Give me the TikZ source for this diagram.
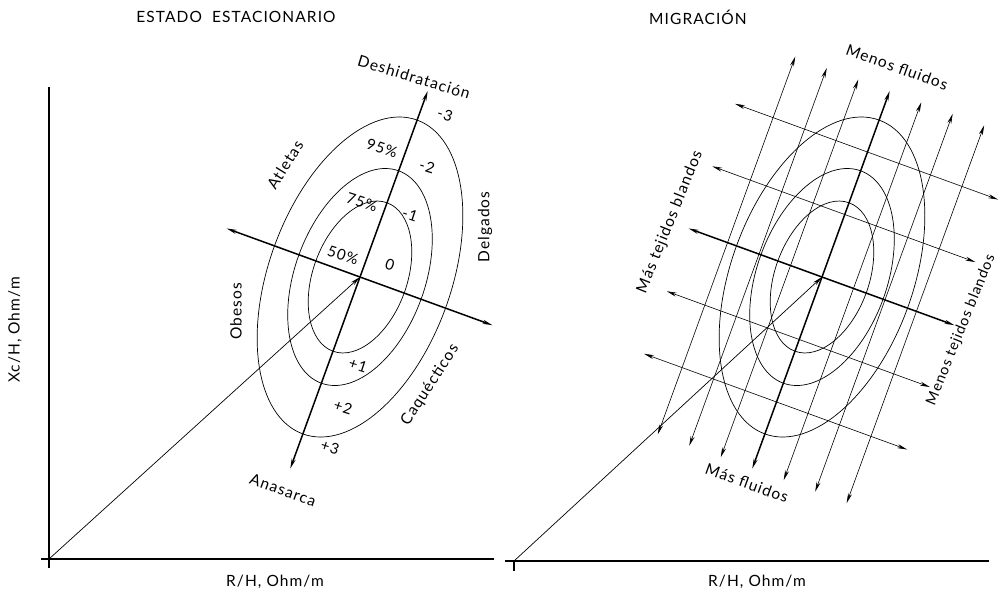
\documentclass[tikz,border=0pt]{standalone}
\usepackage{fontspec}
\setmainfont{Lato}[LetterSpace=7]
\usetikzlibrary{arrows.meta, positioning, calc}

\begin{document}
\begin{tikzpicture}[
    x=1pt, y=1pt,
    lbl/.style={font=\fontsize{15.5}{17}\selectfont, inner sep=1pt},
    num/.style={font=\fontsize{15}{17}\selectfont, inner sep=1pt, rotate=-18},
    axis/.style={line width=1.4pt},
    mainax/.style={line width=1.5pt, <->},
    gridln/.style={line width=0.6pt, <->},
    ring/.style={line width=0.7pt},
    >={Stealth[length=10pt, width=4pt]}
]
    \useasboundingbox (0,0) rectangle (1005,-598);

    % origins and centres of the two panels
    \coordinate (oL) at (49,-559);
    \coordinate (cL) at (360,-277);
    \coordinate (oR) at (514,-561);
    \coordinate (cR) at (822,-277);

    % frame axes
    \coordinate (yTop) at (49,-87);
    \coordinate (yBot) at (49,-568);
    \coordinate (xLa) at (41,-559);
    \coordinate (xLb) at (494,-559);
    \coordinate (xRa) at (505,-561);
    \coordinate (xRb) at (989,-561);
    \coordinate (tickR) at (514,-571);
    \draw[axis] (yTop) -- (yBot);
    \draw[axis] (xLa) -- (xLb);
    \draw[axis] (xRa) -- (xRb);
    \draw[axis] (oR) -- (tickR);

    % right panel: grid of parallel arrows
    \foreach \k in {-3,-2,-1,1,2,3}{
        \coordinate (gt\k) at ($(cR)+(-20:{33.5*\k})+(70:198)$);
        \coordinate (gb\k) at ($(cR)+(-20:{33.5*\k})+(250:204)$);
        \draw[gridln] (gb\k) -- (gt\k);
    }
    \foreach \k in {-2,-1,1,2}{
        \coordinate (hl\k) at ($(cR)+(70:{66.5*\k})+(160:141)$);
        \coordinate (hr\k) at ($(cR)+(70:{66.5*\k})+(-20:139)$);
        \draw[gridln] (hl\k) -- (hr\k);
    }

    % both panels: tolerance ellipses, main axes, vector
    \foreach \p in {L,R}{
        \foreach \a/\b in {167/91, 113/65, 79/47}
            \draw[ring] (c\p) ellipse [x radius=\a, y radius=\b, rotate=70];
        \coordinate (top\p) at ($(c\p)+(70:198)$);
        \coordinate (bot\p) at ($(c\p)+(250:204)$);
        \coordinate (lft\p) at ($(c\p)+(160:142)$);
        \coordinate (rgt\p) at ($(c\p)+(-20:141)$);
        \draw[mainax] (bot\p) -- (top\p);
        \draw[mainax] (lft\p) -- (rgt\p);
        \draw[ring, ->] (o\p) -- (c\p);
    }

    % titles and axis labels
    \node[lbl] (titL) at (236,-17) {ESTADO\ \ ESTACIONARIO};
    \node[lbl] (titR) at (698,-17) {MIGRACIÓN};
    \node[lbl] (rhL) at (275,-582) {R/H, Ohm/m};
    \node[lbl] (rhR) at (757,-582) {R/H, Ohm/m};
    \node[lbl, rotate=90] (xcH) at (15,-330) {Xc/H, Ohm/m};

    % left panel labels
    \node[lbl, rotate=-17] (deshid) at (414,-77) {Deshidratación};
    \node[lbl, rotate=-20] (anasarca) at (283,-490) {Anasarca};
    \node[lbl, rotate=58] (atletas) at (285,-165) {Atletas};
    \node[lbl, rotate=90] (delgados) at (485,-227) {Delgados};
    \node[lbl, rotate=90] (obesos) at (236,-311) {Obesos};
    \node[lbl, rotate=57] (caquec) at (430,-385) {Caquécticos};
    \node[num] (n95) at (382,-148) {95\%};
    \node[num] (n75) at (362,-202) {75\%};
    \node[num] (n50) at (343,-255) {50\%};
    \node[num] (m3) at (445,-115) {-3};
    \node[num] (m2) at (427,-167) {-2};
    \node[num] (m1) at (410,-215) {-1};
    \node[num] (z0) at (390,-265) {0};
    \node[num] (p1) at (358,-365) {+1};
    \node[num] (p2) at (343,-407) {+2};
    \node[num] (p3) at (330,-447) {+3};

    % right panel labels
    \node[lbl, rotate=-20] (menosF) at (897,-67) {Menos fluidos};
    \node[lbl, rotate=-20] (masF) at (747,-483) {Más fluidos};
    \node[lbl, rotate=68] (masT) at (670,-222) {Más tejidos blandos};
    \node[lbl, rotate=68, font=\fontsize{14.5}{16}\selectfont] (menosT) at (961,-330) {Menos tejidos blandos};
\end{tikzpicture}
\end{document}
